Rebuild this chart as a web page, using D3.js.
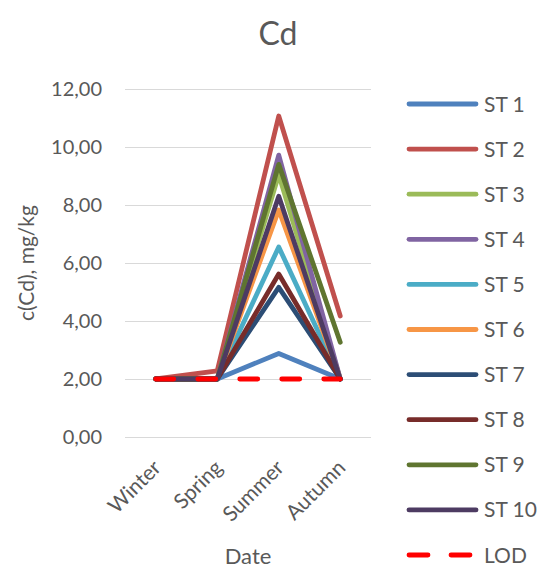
<!DOCTYPE html>
<html>
<head>
<meta charset="utf-8">
<script src="https://cdn.jsdelivr.net/npm/d3@7"></script>
<style>
  html, body { margin: 0; padding: 0; background: #fff; }
  svg { display: block; font-family: Lato, "Open Sans", sans-serif; }
</style>
</head>
<body>
<svg id="chart" width="542" height="584"></svg>
<script>
// Cd concentration per station and season
const seasons = ["Winter", "Spring", "Summer", "Autumn"];
const stations = ["ST 1", "ST 2", "ST 3", "ST 4", "ST 5", "ST 6", "ST 7", "ST 8", "ST 9", "ST 10"];
const st1  = [2.00, 2.00, 2.88, 2.00];
const st2  = [2.00, 2.28, 11.07, 4.17];
const st3  = [2.00, 2.00, 9.05, 2.00];
const st4  = [2.00, 2.00, 9.72, 2.00];
const st5  = [2.00, 2.00, 6.55, 2.00];
const st6  = [2.00, 2.00, 7.83, 2.00];
const st7  = [2.00, 2.00, 5.16, 2.00];
const st8  = [2.00, 2.00, 5.62, 2.00];
const st9  = [2.00, 2.00, 9.40, 3.27];
const st10 = [2.00, 2.00, 8.30, 2.00];
const lod  = [2.00, 2.00, 2.00, 2.00];
const yTicks = [0, 2, 4, 6, 8, 10, 12];
const colors = ["#4f81bd", "#c0504d", "#9bbb59", "#8064a2", "#4bacc6",
                "#f79646", "#2c4d75", "#772c2a", "#5f7530", "#4d3b62"];
const lodColor = "#ff0000";

const seriesValues = [st1, st2, st3, st4, st5, st6, st7, st8, st9, st10];
const series = stations.map((name, i) => ({ name, color: colors[i], values: seriesValues[i], dashed: false }));
series.push({ name: "LOD", color: lodColor, values: lod, dashed: true });

const svg = d3.select("#chart");
const textColor = "#595959";
const plot = { left: 125, right: 371, top: 89, bottom: 437 };

const x = d3.scalePoint().domain(seasons).range([plot.left, plot.right]).padding(0.5);
const y = d3.scaleLinear().domain([0, 12]).range([plot.bottom, plot.top]);

// Title
svg.append("text")
  .attr("x", 278).attr("y", 45)
  .attr("text-anchor", "middle")
  .attr("font-size", 32)
  .attr("fill", textColor)
  .text("Cd");

// Horizontal gridlines and y tick labels
const yAxis = d3.axisLeft(y)
  .tickValues(yTicks)
  .tickSize(-(plot.right - plot.left))
  .tickPadding(23)
  .tickFormat(d => d3.format(".2f")(d).replace(".", ","));
const gy = svg.append("g").attr("transform", `translate(${plot.left},0)`).call(yAxis);
gy.select(".domain").remove();
gy.selectAll(".tick line").attr("stroke", "#d9d9d9").attr("stroke-width", 1.2);
gy.selectAll(".tick text")
  .attr("fill", textColor)
  .attr("font-size", 20)
  .attr("font-family", "Lato, 'Open Sans', sans-serif");

// Category labels, rotated
const xAxis = d3.axisBottom(x).tickSize(0).tickPadding(0);
const gx = svg.append("g").attr("transform", `translate(0,${plot.bottom})`).call(xAxis);
gx.select(".domain").remove();
gx.selectAll(".tick text")
  .attr("fill", textColor)
  .attr("font-size", 21)
  .attr("font-family", "Lato, 'Open Sans', sans-serif")
  .attr("text-anchor", "end")
  .attr("dy", null)
  .attr("y", null)
  .attr("transform", "translate(6,32) rotate(-45)");

// Axis titles
svg.append("text")
  .attr("transform", `translate(34,${(plot.top + plot.bottom) / 2}) rotate(-90)`)
  .attr("text-anchor", "middle")
  .attr("font-size", 21)
  .attr("fill", textColor)
  .text("c(Cd), mg/kg");

svg.append("text")
  .attr("x", (plot.left + plot.right) / 2).attr("y", 564)
  .attr("text-anchor", "middle")
  .attr("font-size", 22)
  .attr("fill", textColor)
  .text("Date");

// Series lines
const line = d3.line()
  .x((d, i) => x(seasons[i]))
  .y(d => y(d));

svg.append("g").selectAll("path")
  .data(series)
  .join("path")
  .attr("d", d => line(d.values))
  .attr("fill", "none")
  .attr("stroke", d => d.color)
  .attr("stroke-width", 4.8)
  .attr("stroke-linejoin", "round")
  .attr("stroke-linecap", "round")
  .attr("stroke-dasharray", d => d.dashed ? "18,24" : null);

// Legend
const legend = svg.append("g");
const rows = legend.selectAll("g")
  .data(series)
  .join("g")
  .attr("transform", (d, i) => `translate(0,${104 + i * 45.1})`);
rows.append("line")
  .attr("x1", 409).attr("x2", 476)
  .attr("stroke", d => d.color)
  .attr("stroke-width", 4.8)
  .attr("stroke-linecap", "round")
  .attr("stroke-dasharray", d => d.dashed ? "19,23" : null);
rows.append("text")
  .attr("x", 484)
  .attr("dy", "0.36em")
  .attr("font-size", 21)
  .attr("fill", textColor)
  .text(d => d.name);
</script>
</body>
</html>
